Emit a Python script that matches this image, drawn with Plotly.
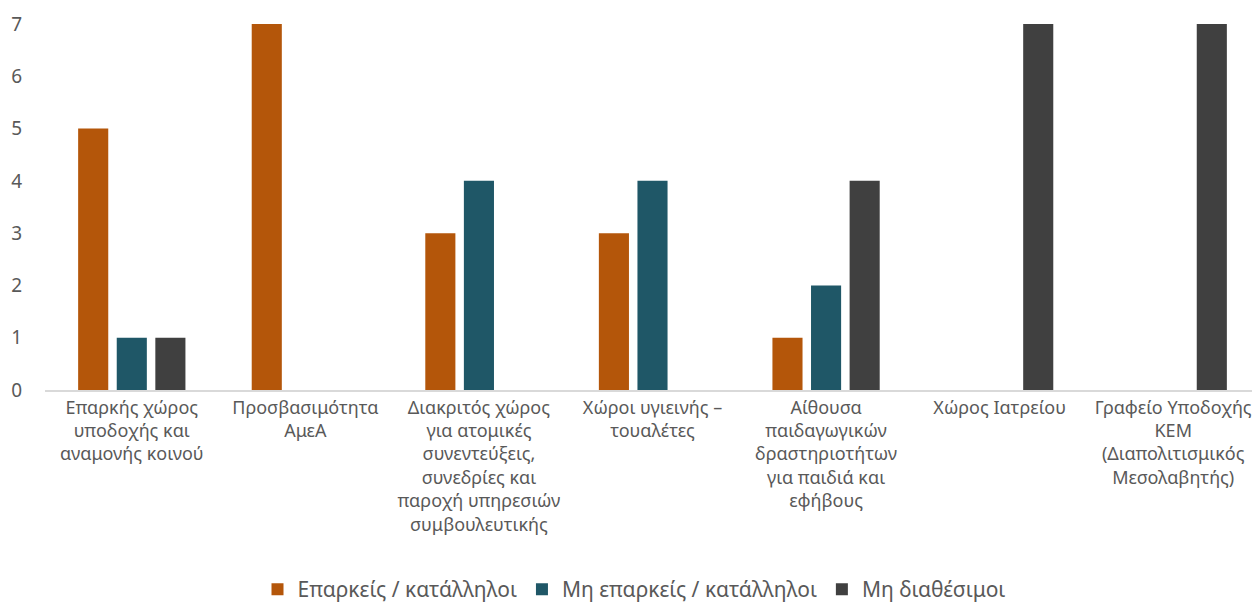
import plotly.graph_objects as go

categories = [
    "Επαρκής χώρος<br>υποδοχής και<br>αναμονής κοινού",
    "Προσβασιμότητα<br>ΑμεΑ",
    "Διακριτός χώρος<br>για ατομικές<br>συνεντεύξεις,<br>συνεδρίες και<br>παροχή υπηρεσιών<br>συμβουλευτικής",
    "Χώροι υγιεινής –<br>τουαλέτες",
    "Αίθουσα<br>παιδαγωγικών<br>δραστηριοτήτων<br>για παιδιά και<br>εφήβους",
    "Χώρος Ιατρείου",
    "Γραφείο Υποδοχής<br>ΚΕΜ<br>(Διαπολιτισμικός<br>Μεσολαβητής)",
]
series_names = ["Επαρκείς / κατάλληλοι", "Μη επαρκείς / κατάλληλοι", "Μη διαθέσιμοι"]
adequate = [5, 7, 3, 3, 1, 0, 0]
inadequate = [1, 0, 4, 4, 2, 0, 0]
unavailable = [1, 0, 0, 0, 4, 7, 7]
colors = ["#B4560A", "#1F5767", "#404040"]
y_ticks = [0, 1, 2, 3, 4, 5, 6, 7]

fig = go.Figure()
for name, vals, col in zip(series_names, [adequate, inadequate, unavailable], colors):
    fig.add_trace(go.Bar(x=categories, y=vals, name=name, marker=dict(color=col, line=dict(width=0))))

font = "Noto Sans, Open Sans, sans-serif"
# page body adds an 8px margin, so the figure is sized/offset to compensate
fig.update_layout(
    width=1252, height=602,
    barmode="group", bargap=0.333, bargroupgap=0.22,
    plot_bgcolor="white", paper_bgcolor="white",
    margin=dict(l=37, r=0, t=16, b=220),
    font=dict(family=font, size=18, color="#595959"),
    xaxis=dict(showline=True, linecolor="#D9D9D9", linewidth=2, ticks="", tickangle=0,
               automargin=False, tickfont=dict(size=18, color="#595959")),
    yaxis=dict(range=[0, 7], tickvals=y_ticks, showgrid=False, zeroline=False, showline=False,
               automargin=False, tickfont=dict(size=19, color="#595959"), ticklabelstandoff=22),
    legend=dict(orientation="h", x=0.5, xanchor="center", xref="container",
                y=0.034, yanchor="middle", yref="container",
                font=dict(size=21, color="#595959"), itemwidth=30, traceorder="normal"),
    showlegend=True,
)
fig.write_html("out.html")
